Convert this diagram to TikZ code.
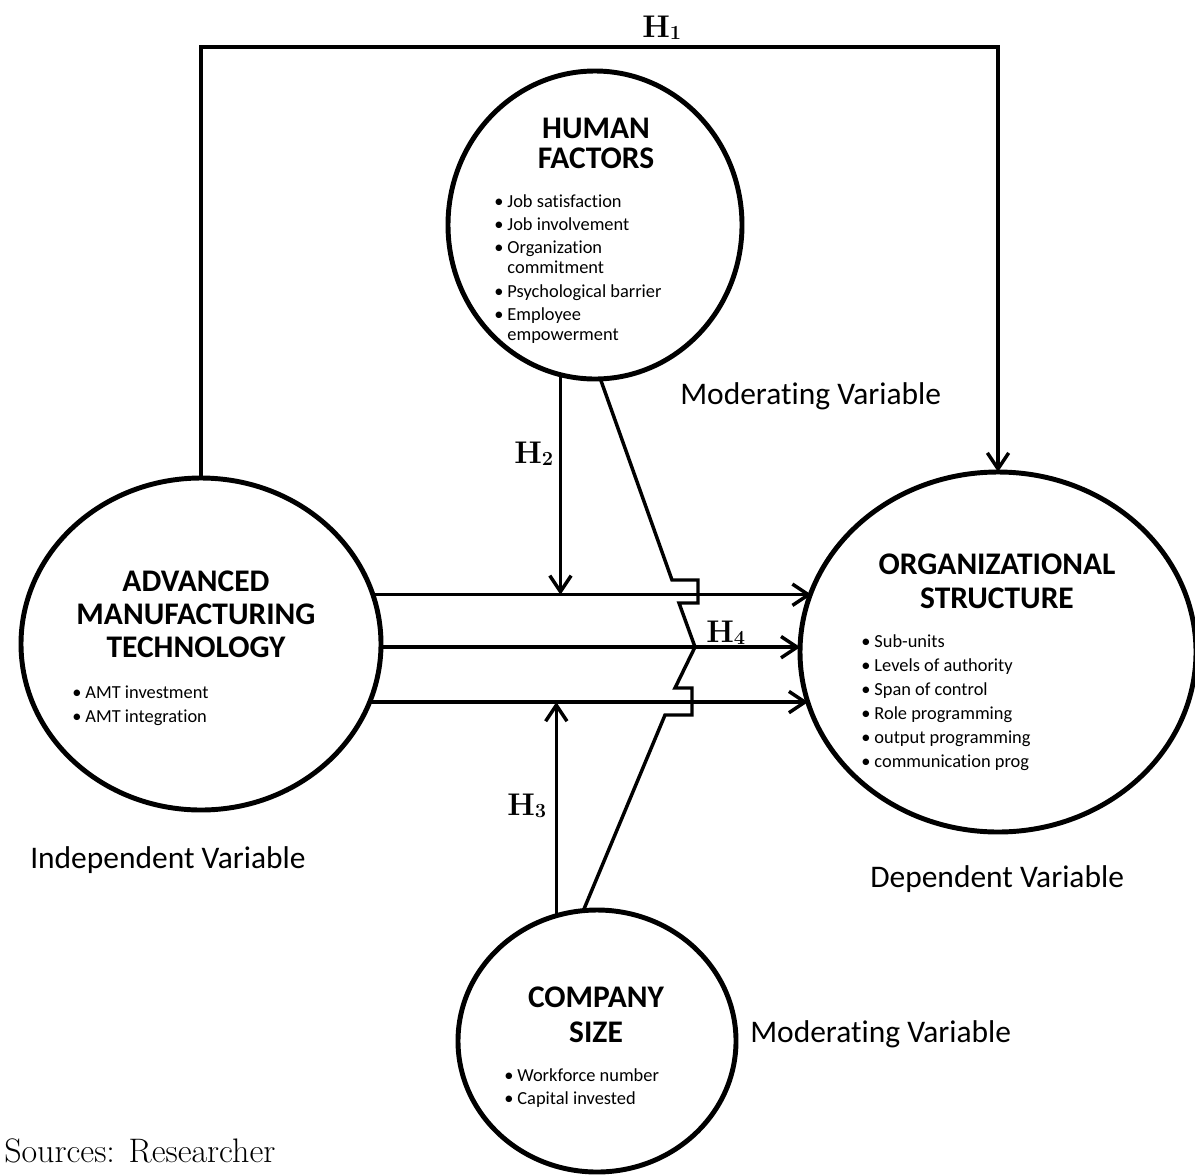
\documentclass[tikz,border=0pt]{standalone}
\usepackage{fontspec}
\newfontfamily\carl[Ligatures={NoCommon}]{Carlito}
\usetikzlibrary{arrows.meta,shapes.geometric}
\newcommand\hyp[1]{{\fontsize{23.5}{25}\selectfont\bfseries H\raisebox{-1.5pt}{\fontsize{15}{15}\selectfont\bfseries #1}}}
\begin{document}
\begin{tikzpicture}[x=0.75pt,y=-0.75pt,
  circ/.style={draw,ellipse,line width=3.7pt,inner sep=0pt,outer sep=0pt},
  conn/.style={line width=2.6pt},
  arr/.style={conn,-{Straight Barb[length=12pt,width=16pt]}},
  ttl/.style={inner sep=0pt,anchor=base},
  lst/.style={inner sep=0pt,anchor=base west},
  lbl/.style={inner sep=0pt,anchor=base west,font=\carl\fontsize{23.6}{28}\selectfont},
  hl/.style={inner sep=0pt,anchor=base west}]
\useasboundingbox (0,0) rectangle (1195,1175);

% circles
\node[circ,minimum width=270pt,minimum height=249pt] (amt) at (201,644) {};
\node[circ,minimum width=220.5pt,minimum height=231pt] (hf) at (595,225) {};
\node[circ,minimum width=297pt,minimum height=270pt] (org) at (998,652) {};
\node[circ,minimum width=208.5pt,minimum height=196.5pt] (cs) at (597,1041) {};

% titles
\node[ttl,font=\carl\bfseries\fontsize{23.6}{25.1}\selectfont] (amtT) at (196,591)
  {\begin{tabular}[t]{@{}c@{}}ADVANCED\\MANUFACTURING\\TECHNOLOGY\end{tabular}};
\node[ttl,font=\carl\bfseries\fontsize{23.6}{22.5}\selectfont] (hfT) at (596,138)
  {\begin{tabular}[t]{@{}c@{}}HUMAN\\FACTORS\end{tabular}};
\node[ttl,font=\carl\bfseries\fontsize{23.6}{25.5}\selectfont] (orgT) at (997,574)
  {\begin{tabular}[t]{@{}c@{}}ORGANIZATIONAL\\STRUCTURE\end{tabular}};
\node[ttl,font=\carl\bfseries\fontsize{23.6}{26.3}\selectfont] (csT) at (596,1007)
  {\begin{tabular}[t]{@{}c@{}}COMPANY\\SIZE\end{tabular}};

% bullet lists
\node[lst,font=\carl\fontsize{13.8}{18}\selectfont] (amtL) at (72,698)
  {\begin{tabular}[t]{@{}l@{\hspace{3pt}}l@{}}•&AMT investment\\•&AMT integration\end{tabular}};
\node[lst,font=\carl\fontsize{13.8}{15}\selectfont] (hfL) at (494,207)
  {\begin{tabular}[t]{@{}l@{\hspace{3pt}}l@{}}•&Job satisfaction\\[2.6pt]•&Job involvement\\[2.6pt]•&Organization\\&commitment\\[2.6pt]•&Psychological barrier\\[2.6pt]•&Employee\\&empowerment\end{tabular}};
\node[lst,font=\carl\fontsize{13.8}{18}\selectfont] (orgL) at (861,647)
  {\begin{tabular}[t]{@{}l@{\hspace{3pt}}l@{}}•&Sub-units\\•&Levels of authority\\•&Span of control\\•&Role programming\\•&output programming\\•&communication prog\end{tabular}};
\node[lst,font=\carl\fontsize{13.8}{17.3}\selectfont] (csL) at (504,1081)
  {\begin{tabular}[t]{@{}l@{\hspace{3pt}}l@{}}•&Workforce number\\•&Capital invested\end{tabular}};

% hypothesis labels
\node[hl] (h1) at (642,37) {\hyp{1}};
\node[hl] (h2) at (514,463) {\hyp{2}};
\node[hl] (h3) at (507,815) {\hyp{3}};
\node[hl] (h4) at (706,642) {\hyp{4}};

% variable labels
\node[lbl] (mv1) at (680,404) {Moderating Variable};
\node[lbl] (iv) at (30,868) {Independent Variable};
\node[lbl] (dv) at (870,887) {Dependent Variable};
\node[lbl] (mv2) at (750,1042) {Moderating Variable};
\node[inner sep=0pt,anchor=base west,font=\fontsize{25.5}{30}\selectfont] (src) at (4,1162) {Sources: Researcher};

% connectors
\coordinate (h1c) at (600,47);
\draw[arr] (amt.north) |- (h1c) -| (org.north);
\draw[arr] (amt.16.6) -- (amt.16.6 -| org.162.5);
\draw[arr] (amt.-1) -- (amt.-1 -| org.178.5);
\draw[arr] (amt.-19.3) -- (amt.-19.3 -| org.195);
\draw[arr] (hf.-103.6) -- (hf.-103.6 |- amt.16.6);
\draw[arr] (cs.108.6) -- (cs.108.6 |- amt.-19.3);

% zigzag moderating line
\coordinate (z1) at (672,580);
\coordinate (z2) at (698,580);
\coordinate (z3) at (698,603);
\coordinate (z4) at (679,603);
\coordinate (z5) at (695,647);
\coordinate (z6) at (675,688);
\coordinate (z7) at (692,688);
\coordinate (z8) at (692,715);
\coordinate (z9) at (665,715);
\draw[conn] (hf.-88.5) -- (z1) -- (z2) -- (z3) -- (z4) -- (z5) -- (z6) -- (z7) -- (z8) -- (z9) -- (cs.96);
\end{tikzpicture}
\end{document}
